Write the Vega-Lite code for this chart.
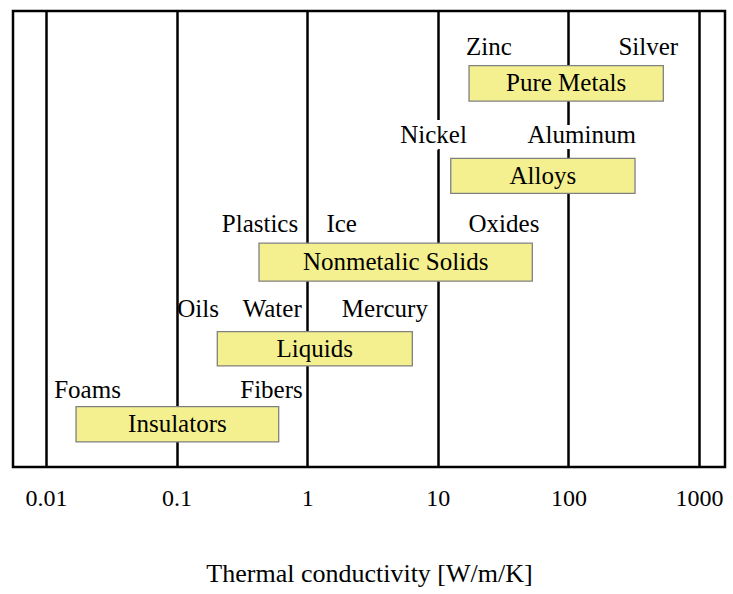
{
  "$schema": "https://vega.github.io/schema/vega-lite/v6.json",
  "autosize": {"type": "none"},
  "width": 712,
  "height": 456,
  "padding": {"left": 13, "top": 11, "right": 8, "bottom": 127},
  "background": "white",
  "config": {
    "view": {"stroke": "black", "strokeWidth": 2.5},
    "font": "Liberation Serif"
  },
  "datasets": {
    "bars": [
      {"name": "Pure Metals", "lo": 17.34, "hi": 532.9, "mid": 96.0, "top": 1.44, "bottom": 2.37},
      {"name": "Alloys", "lo": 12.56, "hi": 323.6, "mid": 63.7, "top": 3.88, "bottom": 4.80},
      {"name": "Nonmetalic Solids", "lo": 0.4275, "hi": 52.9, "mid": 4.756, "top": 6.11, "bottom": 7.11},
      {"name": "Liquids", "lo": 0.2049, "hi": 6.38, "mid": 1.143, "top": 8.44, "bottom": 9.34},
      {"name": "Insulators", "lo": 0.01698, "hi": 0.6049, "mid": 0.1014, "top": 10.41, "bottom": 11.34}
    ],
    "labels": [
      {"label": "Zinc", "k": 24.66, "row": 1.158},
      {"label": "Silver", "k": 409, "row": 1.158},
      {"label": "Nickel", "k": 9.27, "row": 3.466},
      {"label": "Aluminum", "k": 126.4, "row": 3.466},
      {"label": "Plastics", "k": 0.435, "row": 5.808},
      {"label": "Ice", "k": 1.837, "row": 5.808},
      {"label": "Oxides", "k": 32.1, "row": 5.808},
      {"label": "Oils", "k": 0.1459, "row": 8.045},
      {"label": "Water", "k": 0.5395, "row": 8.045},
      {"label": "Mercury", "k": 3.93, "row": 8.045},
      {"label": "Foams", "k": 0.0208, "row": 10.19},
      {"label": "Fibers", "k": 0.533, "row": 10.19}
    ]
  },
  "layer": [
    {
      "data": {"name": "bars"},
      "mark": {"type": "rect", "fill": "#f5f08f", "stroke": "#808080", "strokeWidth": 1.3},
      "encoding": {
        "x": {
          "field": "lo", "type": "quantitative",
          "scale": {"type": "log", "domain": [0.005588, 1581], "nice": false, "zero": false},
          "axis": {
            "values": [0.01, 0.1, 1, 10, 100, 1000],
            "format": "~g",
            "grid": true, "gridColor": "black", "gridWidth": 2.5, "gridOpacity": 1,
            "ticks": false, "domain": false,
            "labelFont": "Liberation Serif", "labelFontSize": 24, "labelColor": "black",
            "labelPadding": 19,
            "title": "Thermal conductivity [W/m/K]",
            "titleFont": "Liberation Serif", "titleFontSize": 26, "titleFontWeight": "normal",
            "titleColor": "black", "titlePadding": 50
          }
        },
        "x2": {"field": "hi"},
        "y": {"field": "top", "type": "quantitative", "scale": {"domain": [0, 12], "reverse": true, "nice": false, "zero": false}, "axis": null},
        "y2": {"field": "bottom"}
      }
    },
    {
      "data": {"name": "bars"},
      "transform": [{"calculate": "(datum.top + datum.bottom) / 2", "as": "center"}],
      "mark": {"type": "text", "font": "Liberation Serif", "fontSize": 25, "color": "black", "baseline": "middle", "align": "center"},
      "encoding": {
        "x": {"field": "mid", "type": "quantitative"},
        "y": {"field": "center", "type": "quantitative"},
        "text": {"field": "name"}
      }
    },
    {
      "data": {"name": "labels"},
      "transform": [{"filter": "indexof(['Nickel', 'Aluminum'], datum.label) >= 0"}],
      "mark": {"type": "text", "font": "Liberation Serif", "fontSize": 25, "fill": "white", "stroke": "white", "strokeWidth": 12, "baseline": "alphabetic", "align": "center"},
      "encoding": {
        "x": {"field": "k", "type": "quantitative"},
        "y": {"field": "row", "type": "quantitative"},
        "text": {"field": "label"}
      }
    },
    {
      "data": {"name": "labels"},
      "mark": {"type": "text", "font": "Liberation Serif", "fontSize": 25, "color": "black", "baseline": "alphabetic", "align": "center"},
      "encoding": {
        "x": {"field": "k", "type": "quantitative"},
        "y": {"field": "row", "type": "quantitative"},
        "text": {"field": "label"}
      }
    }
  ]
}
